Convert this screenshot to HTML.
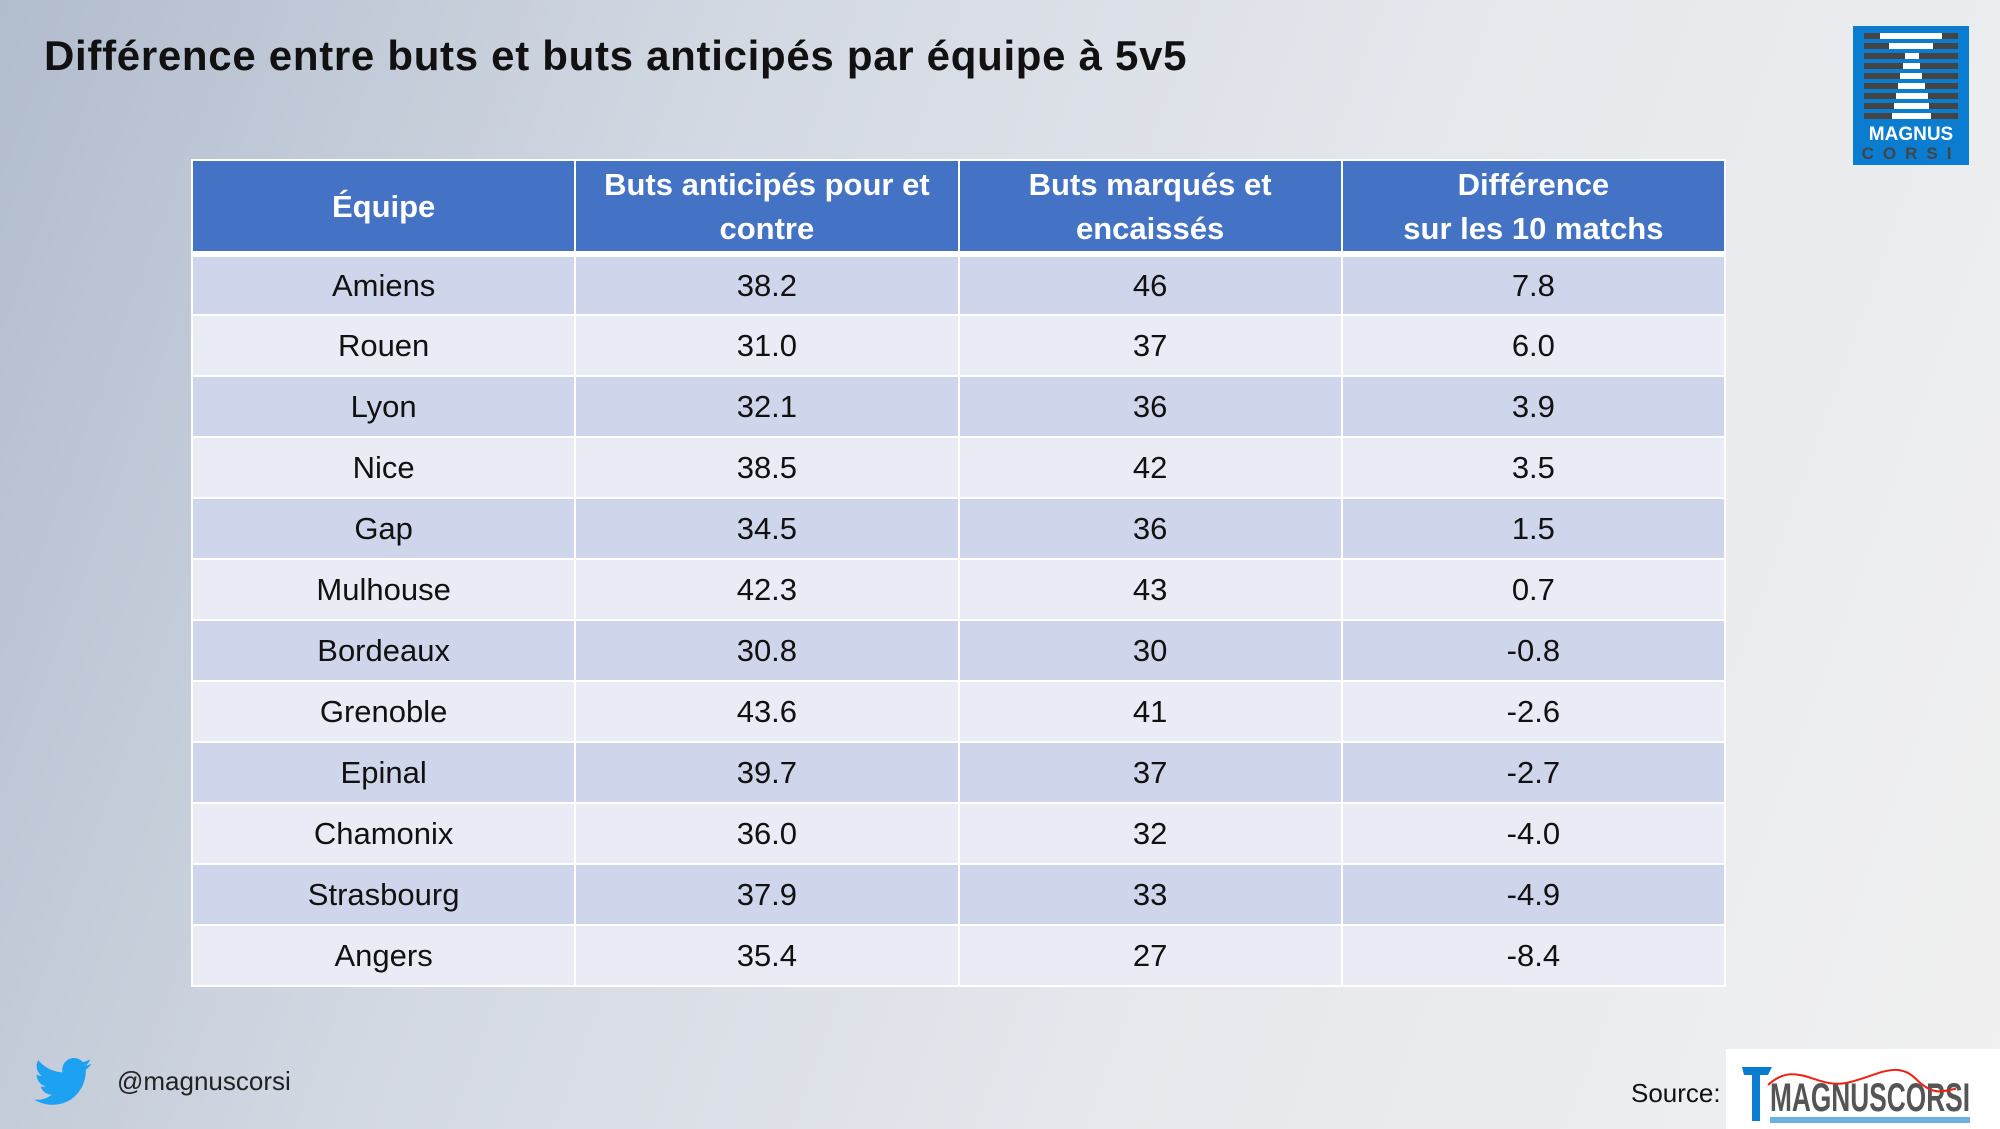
<!DOCTYPE html>
<html><head><meta charset="utf-8"><style>
*{margin:0;padding:0;box-sizing:border-box}
body{width:2000px;height:1129px;overflow:hidden;position:relative;font-family:"Liberation Sans",sans-serif;
background:linear-gradient(110deg,#b1bccd 0%,#d2d8e2 30%,#e4e7ec 60%,#f1f1f1 100%);}
h1{position:absolute;left:44px;top:32px;font-size:42px;font-weight:bold;color:#111;letter-spacing:0.7px}
table{position:absolute;left:191px;top:159px;width:1535px;border-collapse:collapse;table-layout:fixed}
th,td{text-align:center;border:2px solid #fff}
th{background:#4472c4;color:#fff;font-size:31px;font-weight:bold;height:91px;line-height:44px;border-bottom:6px solid #fff;padding-top:2px}
td{font-size:31px;color:#111;height:61px;padding:0;line-height:57px}
tr.a td{background:#cfd5ea}
tr.b td{background:#e9ebf5}
</style></head><body>
<h1>Différence entre buts et buts anticipés par équipe à 5v5</h1>
<svg style="position:absolute;left:1853px;top:26px" width="116" height="139">
<rect width="116" height="139" fill="#0b7dd1"/>
<g fill="#444">
<rect x="11" y="7" width="94" height="6"/><rect x="11" y="17" width="94" height="6"/><rect x="11" y="27" width="94" height="6"/><rect x="11" y="37" width="94" height="6"/><rect x="11" y="47" width="94" height="6"/><rect x="11" y="57" width="94" height="6"/><rect x="11" y="67" width="94" height="6"/><rect x="11" y="77" width="94" height="6"/><rect x="11" y="87" width="94" height="6"/></g>
<g fill="#fff">
<rect x="27" y="7" width="62" height="6"/><rect x="36" y="17" width="44" height="6"/><rect x="52" y="27" width="14" height="6"/><rect x="50" y="37" width="17" height="6"/><rect x="47" y="47" width="22" height="6"/><rect x="45" y="57" width="27" height="6"/><rect x="43" y="67" width="32" height="6"/><rect x="41" y="77" width="35" height="6"/><rect x="39" y="87" width="39" height="6"/></g>
<text x="58" y="114" text-anchor="middle" font-family="Liberation Sans" font-weight="bold" font-size="19" fill="#fff">MAGNUS</text>
<text x="58" y="133" text-anchor="middle" font-family="Liberation Sans" font-weight="bold" font-size="17" fill="#444" letter-spacing="9">CORSI</text>
</svg>
<table>
<tr><th>Équipe</th><th>Buts anticipés pour et contre</th><th>Buts marqués et encaissés</th><th>Différence<br>sur les 10 matchs</th></tr>
<tr class="a"><td>Amiens</td><td>38.2</td><td>46</td><td>7.8</td></tr>
<tr class="b"><td>Rouen</td><td>31.0</td><td>37</td><td>6.0</td></tr>
<tr class="a"><td>Lyon</td><td>32.1</td><td>36</td><td>3.9</td></tr>
<tr class="b"><td>Nice</td><td>38.5</td><td>42</td><td>3.5</td></tr>
<tr class="a"><td>Gap</td><td>34.5</td><td>36</td><td>1.5</td></tr>
<tr class="b"><td>Mulhouse</td><td>42.3</td><td>43</td><td>0.7</td></tr>
<tr class="a"><td>Bordeaux</td><td>30.8</td><td>30</td><td>-0.8</td></tr>
<tr class="b"><td>Grenoble</td><td>43.6</td><td>41</td><td>-2.6</td></tr>
<tr class="a"><td>Epinal</td><td>39.7</td><td>37</td><td>-2.7</td></tr>
<tr class="b"><td>Chamonix</td><td>36.0</td><td>32</td><td>-4.0</td></tr>
<tr class="a"><td>Strasbourg</td><td>37.9</td><td>33</td><td>-4.9</td></tr>
<tr class="b"><td>Angers</td><td>35.4</td><td>27</td><td>-8.4</td></tr>
</table>
<svg style="position:absolute;left:34px;top:1058px" width="58" height="48" viewBox="0 0 24 20">
<path fill="#1da1f2" d="M24 2.4c-.9.4-1.8.6-2.8.8 1-.6 1.8-1.6 2.2-2.7-1 .6-2 1-3.1 1.2C19.3.7 18 0 16.6 0c-2.7 0-4.9 2.2-4.9 4.9 0 .4 0 .8.1 1.1C7.7 5.8 4.1 3.9 1.7.9c-.4.7-.7 1.6-.7 2.5 0 1.7.9 3.2 2.2 4.1-.8 0-1.6-.2-2.2-.6v.1c0 2.4 1.7 4.4 3.9 4.8-.4.1-.8.2-1.3.2-.3 0-.6 0-.9-.1.6 2 2.4 3.4 4.6 3.4-1.7 1.3-3.8 2.1-6.1 2.1-.4 0-.8 0-1.2-.1 2.2 1.4 4.8 2.2 7.5 2.2 9.1 0 14-7.5 14-14v-.6c1-.7 1.8-1.6 2.4-2.5z"/></svg>
<div style="position:absolute;left:117px;top:1066px;font-size:26px;color:#222">@magnuscorsi</div>
<div style="position:absolute;left:1631px;top:1078px;font-size:26px;color:#111">Source:</div>
<svg style="position:absolute;left:1726px;top:1049px" width="274" height="80">
<rect width="274" height="80" fill="#fff"/>
<path d="M16 18 h30 l-4 8 h-8 v46 h-8 v-46 h-8z" fill="#0b7dd1"/>
<text x="44" y="62" font-family="Liberation Sans" font-weight="bold" font-size="40" fill="#555" textLength="200" lengthAdjust="spacingAndGlyphs">MAGNUSCORSI</text>
<path d="M42 36 C70 10,90 40,120 34 S170 10,190 30 S220 40,230 40" stroke="#e21" stroke-width="2" fill="none"/>
<rect x="44" y="68" width="200" height="6" fill="#0b7dd1" opacity=".6"/>
</svg>
</body></html>
